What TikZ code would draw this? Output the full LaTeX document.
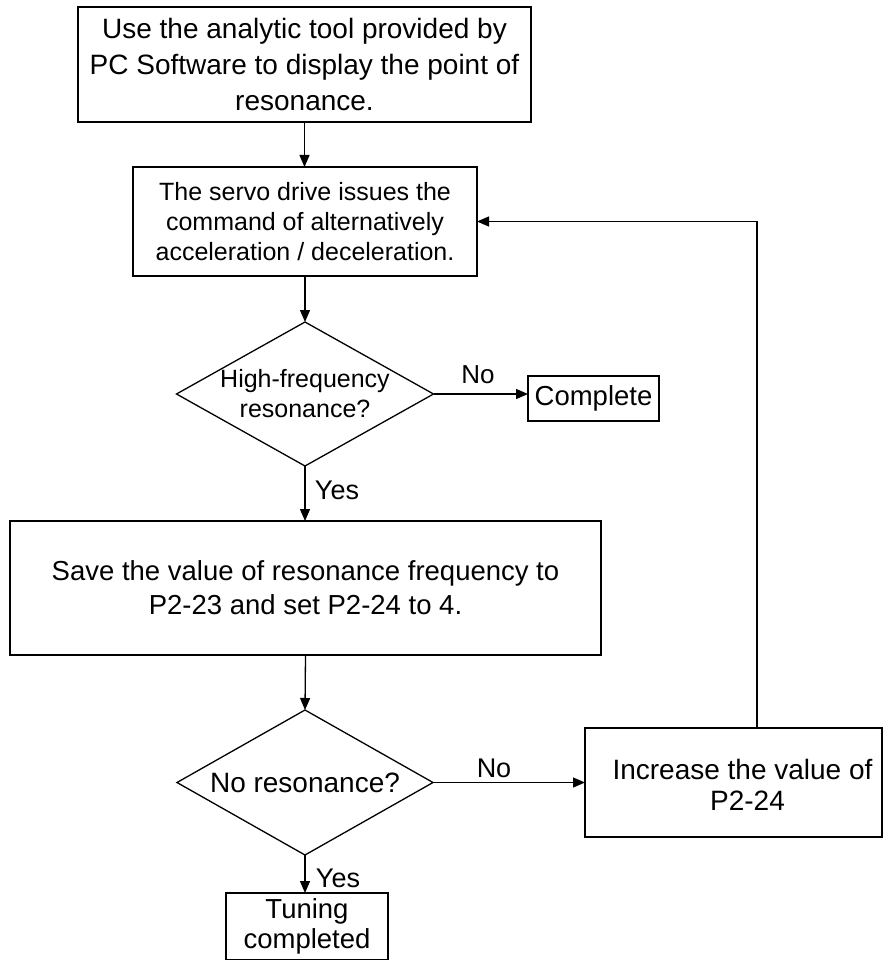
\documentclass[tikz,border=0pt]{standalone}
\usepackage{fontspec}
\setmainfont{Liberation Sans}
\usetikzlibrary{shapes.geometric,arrows.meta}
\begin{document}
\begin{tikzpicture}[x=1pt,y=-1pt,
  every node/.style={inner sep=0pt, outer sep=0pt},
  procbox/.style={draw, line width=1.3pt, rectangle, align=center},
  decision/.style={draw, line width=1.3pt, diamond},
  conn/.style={line width=1.3pt, -{Triangle[length=12pt,width=10pt]}},
  lbl/.style={font=\fontsize{27}{32}\selectfont}]
\useasboundingbox[fill=white] (0,0) rectangle (883,960);

\node[procbox, minimum width=453pt, minimum height=115pt,
      font=\fontsize{28}{36}\selectfont] (b1) at (304.5,64.5)
  {Use the analytic tool provided by\\PC Software to display the point of\\resonance.};
\node[procbox, minimum width=344pt, minimum height=109pt,
      font=\fontsize{25}{30}\selectfont] (b2) at (305,221.5)
  {The servo drive issues the\\command of alternatively\\acceleration / deceleration.};
\node[decision, minimum width=257pt, minimum height=144pt,
      label={[align=center,font=\fontsize{25}{30}\selectfont]center:{High-frequency\\resonance?}}] (d1) at (305,394) {};
\node[procbox, minimum width=131pt, minimum height=45pt,
      font=\fontsize{27.5}{32}\selectfont] (cp) at (593.5,398.5) {Complete};
\node[procbox, minimum width=591pt, minimum height=134pt,
      font=\fontsize{27.5}{34}\selectfont] (b3) at (305.5,588)
  {Save the value of resonance frequency to\\P2-23 and set P2-24 to 4.};
\node[decision, minimum width=256pt, minimum height=145pt,
      label={[font=\fontsize{28}{32}\selectfont]center:{No resonance?}}] (d2) at (305,782.5) {};
\node[procbox, minimum width=297pt, minimum height=109pt,
      label={[align=center,xshift=14pt,yshift=-2pt,font=\fontsize{28}{31}\selectfont]center:{Increase the value of\hspace*{10pt}\\P2-24}}] (b4) at (733.5,782.5) {};
\node[procbox, minimum width=162pt, minimum height=66.3pt,
      font=\fontsize{27.5}{30}\selectfont] (b5) at (307,926.15)
  {Tuning\\completed};

\coordinate (fbx) at (757,0);

\draw[conn] (b1.south) -- (b1.south |- b2.north);
\draw[conn] (b2.south) -- (d1.north);
\draw[conn] (d1.east) -- (d1.east -| cp.west);
\draw[conn] (d1.south) -- (d1.south |- b3.north);
\draw[conn] (b3.south) -- (d2.north);
\draw[conn] (d2.east) -- (b4.west);
\draw[conn] (d2.south) -- (d2.south |- b5.north);
\draw[conn] (b4.north -| fbx) |- (b2.east);

\node[font=\fontsize{26}{30}\selectfont] (no1) at (478,375) {No};
\node[lbl] (yes1) at (337,490) {Yes};
\node[lbl] (no2) at (494,768) {No};
\node[lbl] (yes2) at (338,878) {Yes};
\end{tikzpicture}
\end{document}
